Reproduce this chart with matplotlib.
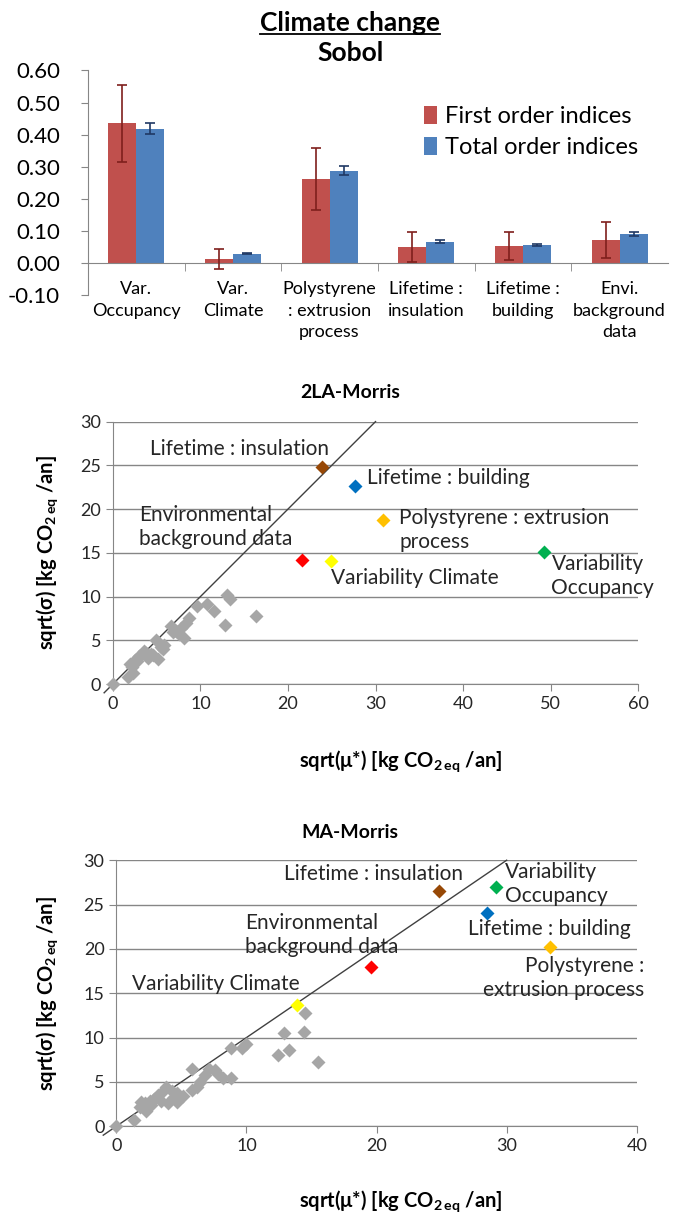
"""
Climate change sensitivity: Sobol indices + two Morris screening plots
"""
import numpy as np
import matplotlib.pyplot as plt
from matplotlib.lines import Line2D

plt.rcParams['font.family'] = ['Lato', 'DejaVu Sans']
plt.rcParams['mathtext.fontset'] = 'custom'
plt.rcParams['mathtext.rm'] = 'Lato'
plt.rcParams['mathtext.bf'] = 'Lato:bold'

# --- Sobol data ---
categories = ['Var.\nOccupancy', 'Var.\nClimate', 'Polystyrene\n: extrusion\nprocess',
              'Lifetime :\ninsulation', 'Lifetime :\nbuilding', 'Envi.\nbackground\ndata']
first_order = [0.435, 0.012, 0.262, 0.050, 0.053, 0.072]
first_err = [0.120, 0.031, 0.097, 0.047, 0.044, 0.055]
total_order = [0.418, 0.029, 0.287, 0.067, 0.057, 0.091]
total_err = [0.017, 0.002, 0.014, 0.005, 0.003, 0.006]

# --- 2LA-Morris data ---
la_gray_mu = [0.0, 1.7, 2.3, 1.9, 2.5, 3.0, 3.4, 4.0, 4.3, 5.1, 4.9, 5.5, 5.8, 5.7, 6.6, 7.2,
              7.5, 8.1, 8.3, 8.7, 9.6, 10.8, 11.5, 13.0, 13.4, 12.8, 16.4, 2.2, 3.6, 4.6, 6.9, 7.8, 2.8, 3.8]
la_gray_sigma = [0.0, 0.8, 1.3, 2.3, 2.8, 3.2, 3.6, 3.0, 3.4, 2.9, 5.0, 4.2, 4.5, 4.0, 6.6, 6.1,
                 5.7, 5.3, 7.0, 7.6, 8.9, 9.1, 8.3, 10.2, 9.7, 6.7, 7.8, 2.0, 3.8, 3.3, 6.0, 6.4, 2.6, 3.5]
la_names = ['insulation', 'building', 'polystyrene', 'occupancy', 'envi', 'climate']
la_mu = [23.9, 27.6, 30.8, 49.3, 21.6, 24.9]
la_sigma = [24.8, 22.6, 18.7, 15.1, 14.2, 14.1]

# --- MA-Morris data ---
ma_gray_mu = [0.0, 1.4, 1.8, 2.2, 1.9, 2.6, 2.3, 2.9, 3.2, 3.5, 3.8, 4.0, 4.4, 4.7, 4.7, 5.8, 5.8,
              6.2, 6.4, 6.8, 7.1, 7.6, 7.8, 8.2, 8.8, 8.8, 9.7, 10.0, 12.4, 12.9, 13.3, 14.4, 14.5,
              15.5, 2.7, 3.4, 4.3, 5.1]
ma_gray_sigma = [0.0, 0.75, 2.2, 2.6, 2.7, 2.9, 1.7, 3.1, 3.5, 3.9, 4.4, 2.6, 3.3, 3.7, 2.7, 6.5, 4.1,
                 4.4, 5.0, 5.75, 6.5, 6.3, 5.9, 5.4, 5.4, 8.8, 8.8, 9.3, 8.0, 10.5, 8.6, 10.6, 12.8,
                 7.3, 2.4, 2.9, 4.0, 3.4]
ma_mu = [24.8, 28.5, 33.3, 29.2, 19.6, 13.9]
ma_sigma = [26.5, 24.0, 20.2, 27.0, 18.0, 13.7]

point_colors = {'insulation': '#974806', 'building': '#0070C0', 'polystyrene': '#FFC000',
                'occupancy': '#00B050', 'envi': '#FF0000', 'climate': '#FFFF00'}

GRID = '#868686'
TXT = '#262626'
ANN = 15  # annotation font size

fig = plt.figure(figsize=(6.76, 12.15), dpi=100)

# ---------------- Sobol bars ----------------
ax1 = fig.add_axes([0.130, 0.757, 0.858, 0.185])
x = np.arange(len(categories))
w = 0.29
ax1.bar(x - w / 2, first_order, w, color='#C0504D', label='First order indices', zorder=2)
ax1.bar(x + w / 2, total_order, w, color='#4F81BD', label='Total order indices', zorder=2)
ax1.errorbar(x - w / 2, first_order, yerr=first_err, fmt='none', ecolor='#7F1F1C',
             elinewidth=1.2, capsize=3.5, capthick=1.2, zorder=3)
ax1.errorbar(x + w / 2, total_order, yerr=total_err, fmt='none', ecolor='#1F3864',
             elinewidth=1.2, capsize=3.5, capthick=1.2, zorder=3)
ax1.set_xlim(-0.5, len(categories) - 0.5)
ax1.set_ylim(-0.1, 0.6)
ax1.set_yticks(np.arange(-0.1, 0.61, 0.1))
ax1.set_yticklabels([f'{v:.2f}' for v in np.arange(-0.1, 0.61, 0.1)], fontsize=16)
ax1.spines['top'].set_visible(False)
ax1.spines['right'].set_visible(False)
ax1.spines['bottom'].set_position(('data', 0))
for s in ['left', 'bottom']:
    ax1.spines[s].set_color(GRID)
ax1.tick_params(axis='y', direction='out', length=5, color=GRID, pad=15)
ax1.set_xticks(x)
ax1.set_xticklabels(categories, fontsize=13, va='top', linespacing=1.42)
ax1.set_xticks(np.arange(0.5, len(categories) - 0.5), minor=True)
ax1.tick_params(axis='x', which='major', length=0, pad=13)
ax1.tick_params(axis='x', which='minor', direction='out', length=6, color=GRID)
ax1.legend(loc='upper left', bbox_to_anchor=(0.543, 0.935), frameon=False, fontsize=17,
           handlelength=0.55, handleheight=0.75, handletextpad=0.35, labelspacing=0.42)

t = fig.text(0.518, 0.981, 'Climate change', ha='center', va='center', fontsize=19,
             fontweight='bold')
fig.text(0.518, 0.956, 'Sobol', ha='center', va='center', fontsize=19, fontweight='bold')
fig.canvas.draw()
bb = t.get_window_extent().transformed(fig.transFigure.inverted())
fig.add_artist(Line2D([bb.x0, bb.x1], [bb.y0 + 0.001, bb.y0 + 0.001], color='black', lw=1.3,
                      transform=fig.transFigure))


# ---------------- Morris scatter ----------------
def morris_axes(rect, xmax, gray_mu, gray_sigma, mu, sigma, title, title_y):
    ax = fig.add_axes(rect)
    ax.set_xlim(0, xmax)
    ax.set_ylim(0, 30)
    ax.set_yticks(range(0, 31, 5))
    ax.set_xticks(range(0, xmax + 1, 10))
    ax.grid(axis='y', color=GRID, lw=1)
    ax.set_axisbelow(True)
    ax.spines['top'].set_visible(False)
    ax.spines['right'].set_visible(False)
    for s in ['left', 'bottom']:
        ax.spines[s].set_color(GRID)
    ax.tick_params(direction='out', length=5, color=GRID, labelsize=13, labelcolor=TXT)
    ax.plot([-1, 30], [-1, 30], color='#404040', lw=1, clip_on=False, zorder=2)
    ax.plot(gray_mu, gray_sigma, 'D', color='#A6A6A6', ms=7, mec='none', clip_on=False, zorder=3)
    for name, m, s in zip(la_names, mu, sigma):
        ax.plot(m, s, 'D', color=point_colors[name], ms=7, mec='none', clip_on=False, zorder=4)
    ax.set_xlabel(r'sqrt(μ*) [kg CO$_{\mathbf{2\,eq}}$ /an]', fontsize=14.5, fontweight='bold')
    ax.set_ylabel(r'sqrt(σ) [kg CO$_{\mathbf{2\,eq}}$ /an]', fontsize=14.5, fontweight='bold')
    fig.text(0.518, title_y, title, ha='center', va='center', fontsize=14, fontweight='bold')
    return ax


ax2 = morris_axes([0.167, 0.437, 0.777, 0.216], 60, la_gray_mu, la_gray_sigma,
                  la_mu, la_sigma, '2LA-Morris', 0.677)
ax2.xaxis.set_label_coords(0.547, -0.245)
ax2.yaxis.set_label_coords(-0.10, 0.5)
kw = dict(fontsize=ANN, color=TXT, va='center', linespacing=1.25)
ax2.text(4.2, 26.9, 'Lifetime : insulation', **kw)
ax2.text(29.0, 23.5, 'Lifetime : building', **kw)
ax2.text(3.0, 17.9, 'Environmental\nbackground data', **kw)
ax2.text(32.7, 17.6, 'Polystyrene : extrusion\nprocess', **kw)
ax2.text(24.9, 12.1, 'Variability Climate', **kw)
ax2.text(50.1, 12.3, 'Variability\nOccupancy', **kw)

ax3 = morris_axes([0.172, 0.073, 0.770, 0.219], 40, ma_gray_mu, ma_gray_sigma,
                  ma_mu, ma_sigma, 'MA-Morris', 0.315)
ax3.xaxis.set_label_coords(0.546, -0.235)
ax3.yaxis.set_label_coords(-0.108, 0.5)
ax3.text(12.9, 28.5, 'Lifetime : insulation', **kw)
ax3.text(29.9, 27.3, 'Variability\nOccupancy', **kw)
ax3.text(9.9, 21.6, 'Environmental\nbackground data', **kw)
ax3.text(27.0, 22.2, 'Lifetime : building', **kw)
ax3.text(40.6, 16.7, 'Polystyrene :\nextrusion process', ha='right', fontsize=ANN, color=TXT,
         va='center', linespacing=1.25, multialignment='right')
ax3.text(1.2, 16.1, 'Variability Climate', **kw)

plt.savefig('out.png', dpi=100)
plt.close()
print("Done: out.png")
